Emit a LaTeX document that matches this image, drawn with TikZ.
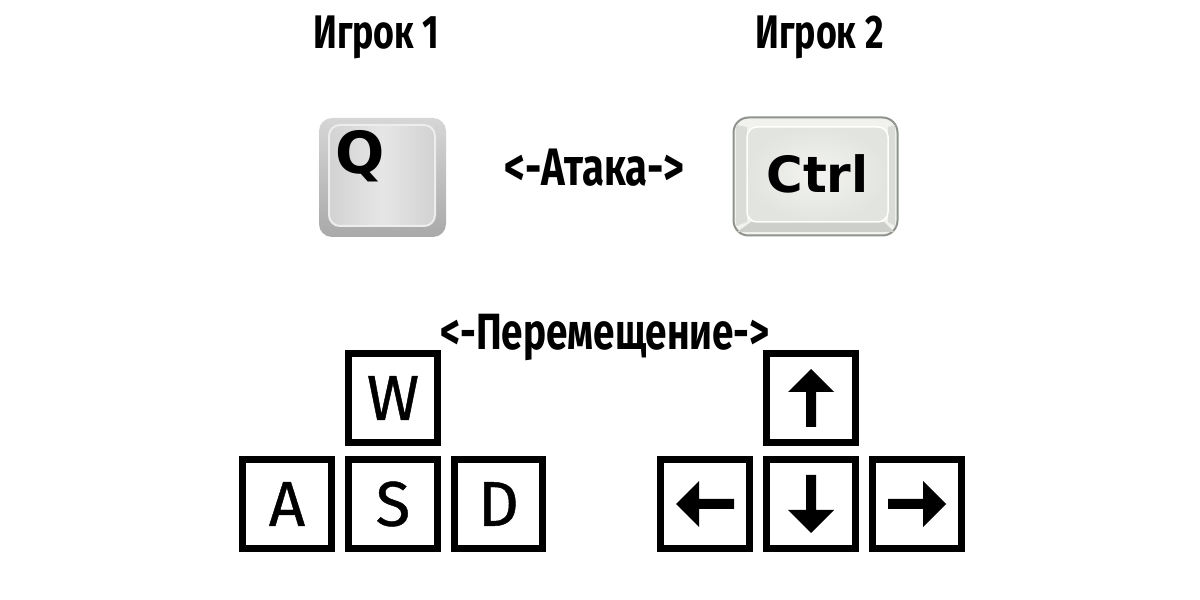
\documentclass[tikz,border=0pt]{standalone}
\usepackage{fontspec}
\setmainfont[FakeBold=0.7]{Fira Sans}
\newfontfamily\titlefont[FakeStretch=0.76]{Fira Sans Bold}
\newfontfamily\capfont{DejaVu Sans Bold}
\usetikzlibrary{positioning}

\definecolor{qtop}{HTML}{D6D6D6}
\definecolor{qbot}{HTML}{A9A9A9}
\definecolor{qmid}{HTML}{E6E6E6}
\definecolor{qside}{HTML}{D2D2D2}
\definecolor{ctrlrim}{HTML}{8E938C}
\definecolor{ctrlup}{HTML}{F1F1ED}
\definecolor{ctrlside}{HTML}{DADCD7}
\definecolor{ctrllow}{HTML}{CDD0CA}
\definecolor{ctrlface}{HTML}{E2E4DF}
\definecolor{ctrlglow}{HTML}{F3F4F1}

\tikzset{
    title/.style={font=\titlefont\fontsize{13.4}{16}\selectfont, inner sep=0pt},
    keybox/.style={draw, line width=0.07cm, minimum size=0.885cm, inner sep=0pt,
	font=\fontsize{18}{20}\selectfont},
    keyarrow/.pic={
	\fill (0.29,0) -- (0.06,0.23) -- (0.06,0.05) -- (-0.29,0.05)
	    -- (-0.29,-0.05) -- (0.06,-0.05) -- (0.06,-0.23) -- cycle;
    },
}

\begin{document}
\begin{tikzpicture}
    \useasboundingbox (0, 0) rectangle (12, 6);

    \path (3.765, 5.63) node [title] (pl1) {Игрок 1};
    \path (8.195, 5.63) node [title] (pl2) {Игрок 2};
    \path (5.945, 4.32) node [title, font=\titlefont\fontsize{15}{18}\selectfont] (atk) {<-Атака->};
    \path (6.05, 2.63) node [title, font=\titlefont\fontsize{14.5}{18}\selectfont] (mov) {<-Перемещение->};

    % Q key
    \path (3.825, 4.225) node [minimum width=1.27cm, minimum height=1.19cm,
	rounded corners=0.13cm, top color=qtop, bottom color=qbot] (qkey) {};
    \path (3.82, 4.245) node [minimum width=1.06cm, minimum height=1.01cm,
	rounded corners=0.11cm, draw=qmid!70!white, line width=0.02cm,
	left color=qside, right color=qside, middle color=qmid] (qface) {};
    \path (3.6, 4.44) node [font=\capfont\fontsize{16.5}{20}\selectfont,
	inner sep=0pt] (qcap) {Q};

    % Ctrl key
    \path (8.155, 4.235) node [draw=ctrlrim, line width=0.02cm,
	minimum width=1.64cm, minimum height=1.18cm, rounded corners=0.15cm,
	fill=ctrlup] (ctrlkey) {};
    \fill [ctrlside] (7.36,4.75) -- (7.47,4.73) -- (7.47,3.78) -- (7.36,3.74) -- cycle;
    \fill [ctrlside] (8.95,4.75) -- (8.88,4.73) -- (8.88,3.78) -- (8.95,3.74) -- cycle;
    \fill [ctrllow] (7.37,3.68) -- (7.51,3.78) -- (8.84,3.78) -- (8.94,3.68) -- cycle;
    \path (8.175, 4.255) node [draw=white, line width=0.015cm,
	minimum width=1.41cm, minimum height=0.95cm, rounded corners=0.1cm,
	inner color=ctrlglow, outer color=ctrlface] (ctrlface) {};
    \path (8.175, 4.26) node [font=\capfont\fontsize{14.2}{18}\selectfont,
	inner sep=0pt] (ctrlcap) {Ctrl};

    % WASD
    \path (3.93, 2.02) node [keybox] (w) {W};
    \path (2.87, 0.96) node [keybox] (a) {A};
    \path (3.93, 0.96) node [keybox] (s) {S};
    \path (4.985, 0.96) node [keybox] (d) {D};

    % arrows
    \path (8.11, 2.02) node [keybox] (up) {};
    \path (7.05, 0.96) node [keybox] (lf) {};
    \path (8.11, 0.96) node [keybox] (dn) {};
    \path (9.17, 0.96) node [keybox] (rt) {};
    \path (up) pic [rotate=90] {keyarrow};
    \path (lf) pic [rotate=180] {keyarrow};
    \path (dn) pic [rotate=270] {keyarrow};
    \path (rt) pic {keyarrow};
\end{tikzpicture}
\end{document}
